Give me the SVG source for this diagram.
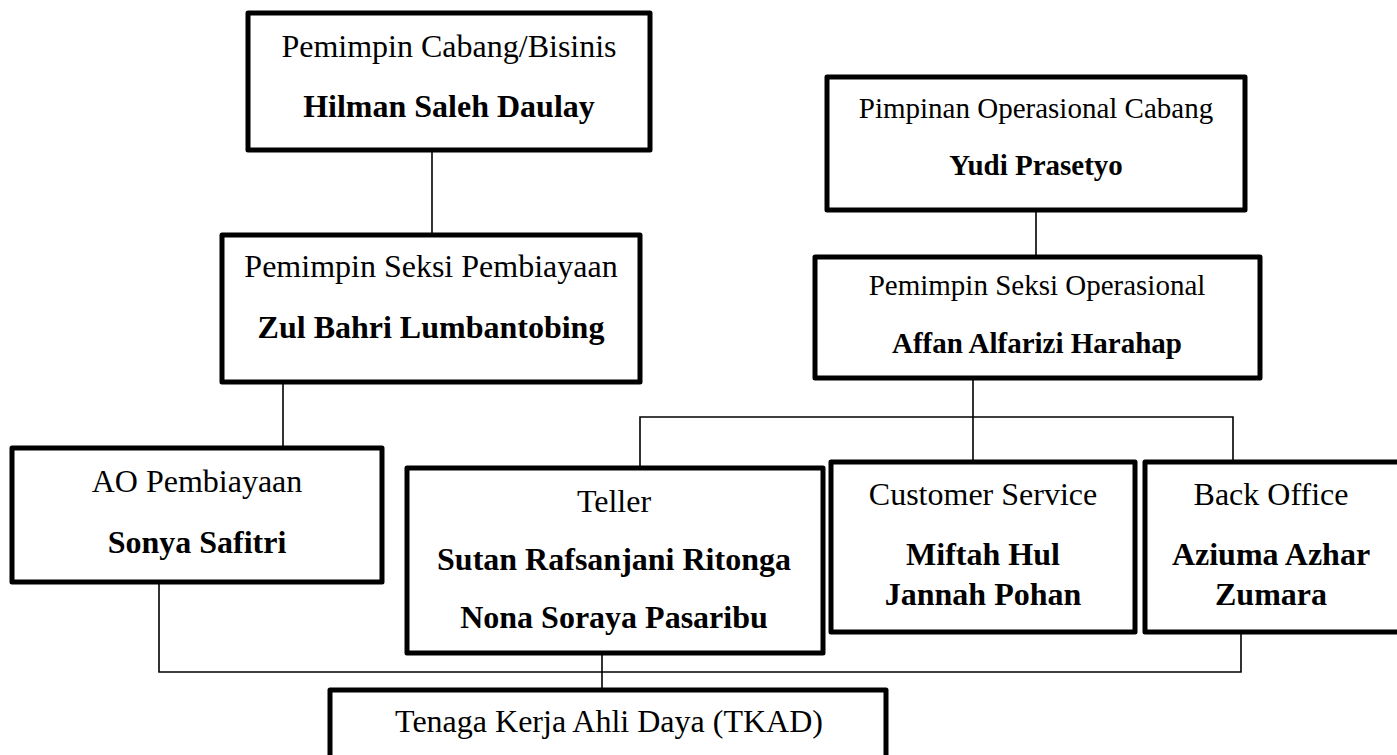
<svg xmlns="http://www.w3.org/2000/svg" width="1397" height="755" viewBox="0 0 1397 755">
<style>
.box{fill:#fff;stroke:#000;stroke-width:5;stroke-linejoin:round}
.ln{fill:none;stroke:#000;stroke-width:1.6}
text{font-family:"Liberation Serif","Times New Roman",serif;fill:#000;text-anchor:middle}
.r{font-size:32px}
.b{font-size:32px;font-weight:bold}
.rs{font-size:29px}
.bs{font-size:29px;font-weight:bold}
</style>
<rect width="1397" height="755" fill="#fff"/>
<g id="connectors">
<path class="ln" d="M432 150V235"/>
<path class="ln" d="M283 382V448"/>
<path class="ln" d="M1036 212V257"/>
<path class="ln" d="M973 378V462"/>
<path class="ln" d="M640 468V417H1233V462"/>
<path class="ln" d="M159 582V672H1241V632"/>
<path class="ln" d="M602 653V690"/>
</g>
<g id="pemimpin-cabang">
<rect class="box" x="248" y="13" width="402" height="137"/>
<text class="r" x="449" y="57">Pemimpin Cabang/Bisinis</text>
<text class="b" x="449" y="117">Hilman Saleh Daulay</text>
</g>
<g id="pimpinan-operasional">
<rect class="box" x="827" y="77" width="418" height="133"/>
<text class="rs" x="1036" y="118">Pimpinan Operasional Cabang</text>
<text class="bs" x="1036" y="175">Yudi Prasetyo</text>
</g>
<g id="seksi-pembiayaan">
<rect class="box" x="222" y="235" width="418" height="147"/>
<text class="r" x="431" y="277">Pemimpin Seksi Pembiayaan</text>
<text class="b" x="431" y="338">Zul Bahri Lumbantobing</text>
</g>
<g id="seksi-operasional">
<rect class="box" x="815" y="257" width="445" height="121"/>
<text class="rs" x="1037" y="295">Pemimpin Seksi Operasional</text>
<text class="bs" x="1037" y="353">Affan Alfarizi Harahap</text>
</g>
<g id="ao-pembiayaan">
<rect class="box" x="12" y="448" width="370" height="134"/>
<text class="r" x="197" y="492">AO Pembiayaan</text>
<text class="b" x="197" y="553">Sonya Safitri</text>
</g>
<g id="teller">
<rect class="box" x="407" y="468" width="416" height="185"/>
<text class="r" x="614" y="512">Teller</text>
<text class="b" x="614" y="570">Sutan Rafsanjani Ritonga</text>
<text class="b" x="614" y="628">Nona Soraya Pasaribu</text>
</g>
<g id="customer-service">
<rect class="box" x="831" y="462" width="304" height="170"/>
<text class="r" x="983" y="505">Customer Service</text>
<text class="b" x="983" y="565">Miftah Hul</text>
<text class="b" x="983" y="605">Jannah Pohan</text>
</g>
<g id="back-office">
<rect class="box" x="1145" y="462" width="262" height="170"/>
<text class="r" x="1271" y="505">Back Office</text>
<text class="b" x="1271" y="565">Aziuma Azhar</text>
<text class="b" x="1271" y="605">Zumara</text>
</g>
<g id="tkad">
<rect class="box" x="330" y="690" width="556" height="90"/>
<text class="r" x="609" y="732">Tenaga Kerja Ahli Daya (TKAD)</text>
</g>
</svg>
